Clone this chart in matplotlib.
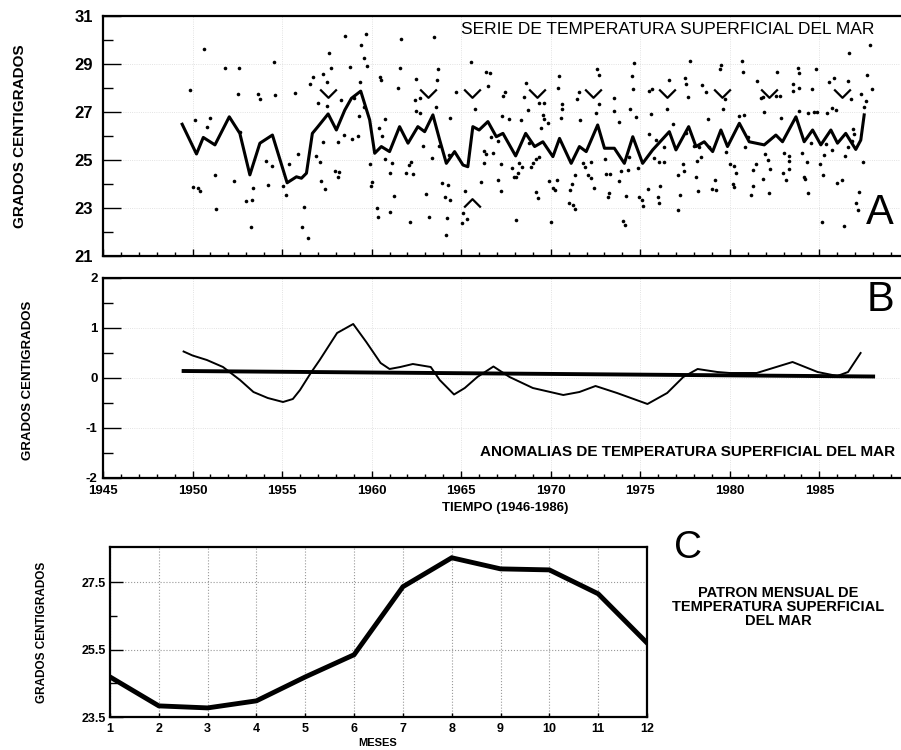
import numpy as np
import matplotlib
matplotlib.use('Agg')
import matplotlib.pyplot as plt
from matplotlib.ticker import MultipleLocator, FixedLocator

plt.rcParams['font.family'] = ['Liberation Sans', 'DejaVu Sans']
plt.rcParams['axes.unicode_minus'] = False

# --- A: serie mensual de TSM (puntos) y serie suavizada (linea) ---
sst_points = [
    (1950.65, 29.64), (1951.82, 28.83), (1949.85, 27.92), (1950.13, 26.67), (1950.95, 26.74),
    (1950.82, 26.38), (1951.23, 24.39), (1952.3, 24.14), (1950.0, 23.88), (1950.3, 23.82),
    (1950.4, 23.7), (1951.3, 22.97), (1952.64, 26.15),
    (1952.58, 28.85), (1954.55, 29.1), (1952.53, 27.75), (1953.66, 27.75), (1953.76, 27.53),
    (1954.63, 27.71), (1955.73, 27.78), (1953.36, 23.85), (1952.96, 23.3), (1953.33, 23.32),
    (1953.26, 22.2), (1954.09, 24.97), (1954.43, 24.76), (1954.2, 23.96), (1955.04, 23.92),
    (1955.19, 23.54), (1955.37, 24.82), (1955.91, 25.25), (1956.21, 23.05), (1956.12, 22.22),
    (1956.45, 21.76), (1956.58, 28.17), (1956.71, 28.47), (1957.31, 28.6), (1957.53, 28.26),
    (1957.6, 29.47), (1957.72, 28.82), (1958.52, 30.17), (1958.78, 28.89), (1959.43, 29.79),
    (1959.56, 29.26), (1959.37, 28.24), (1956.99, 27.39), (1957.49, 27.25), (1958.31, 27.5),
    (1959.0, 27.57), (1959.31, 26.82), (1959.56, 27.22), (1957.27, 25.74), (1958.1, 25.74),
    (1958.48, 26.03), (1958.89, 25.88), (1959.24, 26.0), (1956.91, 25.18), (1957.1, 24.9),
    (1957.97, 24.55), (1958.2, 24.49), (1958.14, 24.3), (1957.19, 24.14), (1957.42, 23.79),
    (1959.67, 30.24), (1961.66, 30.03), (1963.46, 30.14), (1959.76, 28.92), (1961.6, 28.82),
    (1963.72, 28.78), (1965.56, 29.07), (1966.4, 28.65), (1960.45, 28.47), (1960.54, 28.33),
    (1961.47, 28.01), (1962.46, 28.39), (1963.65, 28.33), (1964.69, 27.85), (1962.4, 27.5),
    (1962.68, 27.57), (1966.49, 28.08), (1962.49, 27.05), (1962.68, 26.97), (1963.57, 27.22),
    (1964.39, 26.76), (1965.78, 27.13), (1960.77, 26.72), (1960.39, 26.32), (1960.6, 26.0),
    (1959.89, 24.83), (1960.73, 25.03), (1961.14, 24.86), (1961.0, 24.47), (1962.21, 24.93),
    (1962.08, 24.79), (1961.93, 24.47), (1962.3, 24.4), (1962.86, 25.58), (1963.38, 25.07),
    (1963.76, 25.58), (1964.32, 25.21), (1966.4, 25.24), (1966.27, 25.39), (1966.8, 25.3),
    (1966.27, 24.86), (1960.04, 24.1), (1959.98, 23.92), (1961.23, 23.51), (1963.05, 23.57),
    (1963.94, 24.05), (1964.26, 23.96), (1964.07, 23.45), (1964.39, 23.33), (1965.2, 23.72),
    (1966.08, 24.1), (1960.3, 22.99), (1961.04, 22.85), (1960.36, 22.61), (1962.16, 22.43),
    (1963.2, 22.61), (1964.2, 22.57), (1965.1, 22.78), (1965.04, 22.39), (1965.32, 22.54),
    (1964.13, 21.86),
    (1970.45, 28.5), (1972.57, 28.78), (1972.68, 28.53), (1966.63, 28.61), (1968.63, 28.2),
    (1970.43, 28.01), (1967.47, 27.85), (1967.33, 27.67), (1968.5, 27.61), (1969.37, 27.39),
    (1969.61, 27.39), (1971.56, 27.85), (1971.45, 27.53), (1970.63, 27.32), (1970.63, 27.11),
    (1972.72, 27.32), (1972.53, 26.94), (1973.52, 27.57), (1973.55, 27.05), (1973.8, 26.6),
    (1968.72, 27.08), (1967.29, 26.83), (1967.66, 26.71), (1968.35, 26.67), (1969.56, 26.88),
    (1969.65, 26.69), (1969.84, 26.53), (1969.46, 26.32), (1970.58, 26.76), (1971.64, 26.67),
    (1966.68, 25.97), (1967.05, 25.79), (1968.78, 25.7), (1969.37, 25.14), (1969.18, 25.03),
    (1967.23, 24.82), (1968.25, 24.86), (1968.37, 24.72), (1967.85, 24.65), (1968.99, 24.86),
    (1968.9, 24.72), (1968.16, 24.47), (1967.94, 24.3), (1968.07, 24.28), (1967.05, 24.17),
    (1967.2, 23.72), (1971.38, 24.38), (1971.79, 24.86), (1971.94, 24.72), (1972.22, 24.93),
    (1972.09, 24.38), (1972.27, 24.24), (1973.09, 24.4), (1973.31, 24.4), (1973.05, 25.05),
    (1973.93, 24.54), (1973.8, 24.13), (1969.93, 24.13), (1970.36, 24.17), (1970.12, 23.85),
    (1970.21, 23.75), (1969.15, 23.68), (1969.28, 23.4), (1971.05, 23.75), (1971.2, 24.0),
    (1971.01, 23.2), (1971.23, 23.13), (1971.33, 22.95), (1972.39, 23.85), (1973.24, 23.64),
    (1973.18, 23.45), (1968.04, 22.5), (1969.99, 22.42), (1974.02, 22.47),
    (1974.67, 29.03), (1977.79, 29.13), (1979.5, 28.96), (1979.47, 28.78), (1980.66, 29.13),
    (1980.75, 28.68), (1974.54, 28.5), (1976.58, 28.33), (1977.47, 28.4), (1977.55, 28.17),
    (1978.44, 28.11), (1974.58, 27.95), (1975.66, 27.97), (1975.5, 27.89), (1977.65, 27.61),
    (1978.67, 27.85), (1979.75, 27.53), (1974.43, 27.14), (1974.77, 26.78), (1975.62, 26.93),
    (1976.49, 27.13), (1979.63, 27.11), (1980.53, 26.83), (1980.8, 26.88), (1976.81, 26.49),
    (1978.76, 26.69), (1975.47, 26.07), (1975.88, 25.83), (1976.34, 25.56), (1977.55, 26.11),
    (1978.02, 25.58), (1978.3, 25.56), (1978.86, 25.56), (1981.0, 25.97), (1980.86, 25.53),
    (1974.39, 25.14), (1975.77, 25.1), (1976.05, 24.93), (1976.34, 24.93), (1978.39, 25.14),
    (1978.15, 24.96), (1979.78, 25.35), (1980.0, 24.83), (1980.25, 24.75), (1974.3, 24.58),
    (1974.86, 24.68), (1977.37, 24.82), (1977.42, 24.54), (1977.09, 24.38), (1978.11, 24.3),
    (1980.34, 24.45), (1979.19, 24.17), (1980.16, 23.99), (1980.25, 23.89), (1981.27, 23.93),
    (1976.12, 23.92), (1975.42, 23.79), (1978.2, 23.71), (1979.0, 23.79), (1979.2, 23.75),
    (1974.18, 23.5), (1974.93, 23.45), (1975.08, 23.33), (1975.17, 23.1), (1975.97, 23.47),
    (1976.05, 23.2), (1977.22, 23.53), (1977.12, 22.92), (1974.17, 22.28), (1981.18, 23.54),
    (1987.82, 29.79), (1986.66, 29.44), (1982.63, 28.67), (1983.78, 28.82), (1983.84, 28.64),
    (1984.8, 28.78), (1987.68, 28.54), (1981.49, 28.29), (1985.83, 28.4), (1985.55, 28.26),
    (1986.61, 28.31), (1983.55, 28.17), (1983.87, 27.99), (1983.5, 27.88), (1984.58, 27.95),
    (1987.92, 27.95), (1987.31, 27.75), (1981.83, 27.64), (1981.74, 27.57), (1982.57, 27.67),
    (1982.81, 27.67), (1986.75, 27.53), (1987.59, 27.46), (1987.5, 27.22), (1981.92, 26.99),
    (1983.87, 27.05), (1984.39, 26.97), (1984.7, 27.01), (1984.89, 27.01), (1985.45, 26.94),
    (1985.73, 27.18), (1985.95, 27.08), (1982.85, 26.74), (1986.85, 26.28), (1986.94, 26.08),
    (1986.81, 25.8), (1984.52, 25.72), (1985.36, 25.65), (1986.57, 25.56), (1981.98, 25.24),
    (1983.04, 25.3), (1983.32, 25.17), (1984.02, 25.28), (1985.27, 25.21), (1985.7, 25.42),
    (1986.44, 25.17), (1981.46, 24.82), (1982.11, 25.0), (1983.28, 24.97), (1984.28, 24.93),
    (1985.02, 24.83), (1987.46, 24.93), (1981.3, 24.58), (1982.23, 24.61), (1982.94, 24.45),
    (1983.28, 24.61), (1984.12, 24.3), (1984.21, 24.2), (1985.21, 24.38), (1981.85, 24.21),
    (1983.13, 24.17), (1986.25, 24.17), (1986.0, 24.03), (1982.2, 23.64), (1984.38, 23.61),
    (1987.22, 23.65), (1987.07, 23.22), (1987.13, 22.92), (1985.14, 22.4), (1986.35, 22.25),
]
sst_year = [p[0] for p in sst_points]
sst_temp = [p[1] for p in sst_points]

smooth_year = [1949.42, 1950.22, 1950.6, 1951.25, 1952.05, 1952.64, 1953.2, 1953.76, 1954.46,
               1955.28, 1955.8, 1956.08, 1956.36, 1956.69, 1957.0, 1957.57, 1958.03, 1958.5,
               1958.87, 1959.39, 1959.89, 1960.17, 1960.54, 1961.0, 1961.56, 1962.03, 1962.58,
               1962.96, 1963.42, 1963.8, 1964.17, 1964.63, 1965.1, 1965.37, 1965.65, 1966.0,
               1966.49, 1966.96, 1967.33, 1968.04, 1968.6, 1969.1, 1969.56, 1970.12, 1970.49,
               1971.14, 1971.6, 1971.98, 1972.62, 1973.0, 1973.55, 1974.11, 1974.58, 1975.13,
               1975.69, 1976.62, 1976.99, 1977.7, 1978.11, 1978.57, 1979.04, 1979.5, 1979.87,
               1980.53, 1981.08, 1981.92, 1982.57, 1982.94, 1983.69, 1984.15, 1984.62, 1985.08,
               1985.64, 1986.01, 1986.47, 1987.03, 1987.31, 1987.5]
smooth_temp = [26.49, 25.25, 25.94, 25.63, 26.8, 26.11, 24.38, 25.7, 26.04,
               24.05, 24.3, 24.24, 24.45, 26.11, 26.39, 26.92, 26.25, 27.08,
               27.57, 27.87, 26.67, 25.28, 25.56, 25.35, 26.39, 25.7, 26.39,
               26.18, 26.88, 25.83, 24.86, 25.35, 24.79, 24.72, 26.39, 26.25,
               26.6, 25.97, 26.11, 25.17, 26.11, 25.56, 25.76, 25.14, 25.9,
               24.86, 25.56, 25.35, 26.46, 25.49, 25.49, 24.86, 25.97, 24.86,
               25.42, 26.18, 25.42, 26.39, 25.56, 25.76, 25.35, 26.25, 25.56,
               26.53, 25.76, 25.63, 26.04, 25.76, 26.8, 25.76, 26.25, 25.63,
               26.25, 25.7, 26.11, 25.44, 25.83, 26.88]

warm_year = [1957.55, 1963.15, 1965.6, 1969.25, 1972.35, 1976.5, 1979.55, 1982.2, 1986.25]
warm_temp = [27.75] * len(warm_year)
cold_year = [1965.6]
cold_temp = [23.25]

# --- B: anomalias y tendencia ---
anom_year = [1949.5, 1950.0, 1950.8, 1951.7, 1952.65, 1953.4, 1954.2, 1955.05, 1955.6, 1956.0,
             1956.6, 1957.1, 1958.07, 1958.97, 1959.7, 1960.5, 1961.0, 1961.6, 1962.3, 1963.3,
             1963.8, 1964.6, 1965.2, 1965.9, 1966.8, 1967.7, 1969.0, 1970.7, 1971.6, 1972.5,
             1973.7, 1975.4, 1976.5, 1977.4, 1978.2, 1979.3, 1980.0, 1981.5, 1983.5, 1984.9,
             1986.0, 1986.6, 1987.3]
anom_val = [0.53, 0.45, 0.36, 0.22, -0.04, -0.28, -0.4, -0.48, -0.42, -0.24,
            0.1, 0.36, 0.9, 1.08, 0.72, 0.3, 0.18, 0.22, 0.28, 0.22,
            -0.04, -0.33, -0.2, 0.02, 0.23, 0.02, -0.2, -0.34, -0.28, -0.16,
            -0.3, -0.52, -0.3, 0.02, 0.18, 0.12, 0.1, 0.1, 0.32, 0.12,
            0.04, 0.12, 0.5]
trend_year = [1949.5, 1988.0]
trend_val = [0.14, 0.03]

# --- C: patron mensual ---
months = list(range(1, 13))
monthly_temp = [24.69, 23.83, 23.77, 23.98, 24.69, 25.35, 27.37, 28.23, 27.9, 27.87, 27.16, 25.7]

W, H = 901, 750
fig = plt.figure(figsize=(W / 100, H / 100), dpi=100)


def box(l, t, r, b):
    return [l / W, 1 - b / H, (r - l) / W, (b - t) / H]


def ftext(x, y, s, **kw):
    fig.text(x / W, 1 - y / H, s, ha=kw.pop('ha', 'center'), va=kw.pop('va', 'center'), **kw)


def style(ax, lw=1.6):
    for sp in ax.spines.values():
        sp.set_linewidth(lw)
    ax.tick_params(which='both', direction='in', top=False, right=False, width=1.0)
    for lab in ax.get_xticklabels() + ax.get_yticklabels():
        lab.set_fontweight('bold')


grid_kw = dict(color='0.85', linestyle=':', linewidth=0.6)
v_mark = [(-1, 0.6), (0, -0.4), (1, 0.6)]
a_mark = [(-1, -0.6), (0, 0.4), (1, -0.6)]

# panel A
axA = fig.add_axes(box(103, 16, 900, 256))
axA.plot(sst_year, sst_temp, 'o', color='black', ms=2.6, mew=0)
axA.plot(smooth_year, smooth_temp, color='black', lw=2.2, solid_joinstyle='round')
axA.plot(warm_year, warm_temp, ls='none', marker=v_mark, ms=12, mfc='none', mec='black', mew=1.6)
axA.plot(cold_year, cold_temp, ls='none', marker=a_mark, ms=12, mfc='none', mec='black', mew=1.6)
axA.set_xlim(1945, 1989.5)
axA.set_ylim(21, 31)
axA.xaxis.set_major_locator(MultipleLocator(5))
axA.xaxis.set_minor_locator(MultipleLocator(1))
axA.yaxis.set_major_locator(FixedLocator([21, 23, 25, 27, 29, 31]))
axA.yaxis.set_minor_locator(FixedLocator([22, 24, 26, 28, 30]))
axA.set_xticklabels([])
axA.tick_params(axis='y', labelsize=12, pad=7)
axA.tick_params(axis='y', which='major', length=13)
axA.tick_params(axis='y', which='minor', length=7)
axA.tick_params(axis='x', which='major', length=5)
axA.tick_params(axis='x', which='minor', length=3)
axA.spines['right'].set_visible(False)
axA.grid(True, **grid_kw)
style(axA)

# panel B
axB = fig.add_axes(box(103, 278, 900, 478))
axB.plot(anom_year, anom_val, color='black', lw=1.4, solid_joinstyle='round')
axB.plot(trend_year, trend_val, color='black', lw=2.8)
axB.set_xlim(1945, 1989.5)
axB.set_ylim(-2, 2)
axB.xaxis.set_major_locator(MultipleLocator(5))
axB.xaxis.set_minor_locator(MultipleLocator(1))
axB.yaxis.set_major_locator(MultipleLocator(1))
axB.yaxis.set_minor_locator(MultipleLocator(0.5))
axB.tick_params(axis='both', labelsize=9.5)
axB.tick_params(axis='y', pad=4)
axB.tick_params(axis='x', pad=5)
axB.tick_params(axis='y', which='major', length=13)
axB.tick_params(axis='y', which='minor', length=7)
axB.tick_params(axis='x', which='major', length=5)
axB.tick_params(axis='x', which='minor', length=3)
axB.spines['right'].set_visible(False)
axB.grid(True, **grid_kw)
style(axB)

# panel C
axC = fig.add_axes(box(110, 547, 647, 717))
axC.plot(months, monthly_temp, color='black', lw=3.5, solid_joinstyle='miter')
axC.set_xlim(1, 12)
axC.set_ylim(23.5, 28.55)
axC.xaxis.set_major_locator(FixedLocator(months))
axC.yaxis.set_major_locator(FixedLocator([23.5, 25.5, 27.5]))
axC.yaxis.set_minor_locator(FixedLocator([24.5, 26.5]))
axC.tick_params(axis='both', labelsize=9)
axC.tick_params(axis='y', pad=3)
axC.tick_params(axis='x', pad=4)
axC.tick_params(axis='y', which='major', length=9)
axC.tick_params(axis='y', which='minor', length=5)
axC.tick_params(axis='x', which='major', length=3)
axC.grid(True, color='0.6', linestyle=':', linewidth=0.8)
style(axC)

# textos
ftext(668, 30, 'SERIE DE TEMPERATURA SUPERFICIAL DEL MAR', fontsize=12.5)
ftext(880, 213, 'A', fontsize=30)
ftext(20, 136, 'GRADOS CENTIGRADOS', fontsize=11, fontweight='bold', rotation=90)

ftext(880, 300, 'B', fontsize=30)
ftext(688, 452, 'ANOMALIAS DE TEMPERATURA SUPERFICIAL DEL MAR', fontsize=11, fontweight='bold')
ftext(28, 380, 'GRADOS CENTIGRADOS', fontsize=9.5, fontweight='bold', rotation=90)
ftext(505, 508, 'TIEMPO (1946-1986)', fontsize=9.5, fontweight='bold')

ftext(688, 548, 'C', fontsize=28)
ftext(778, 607, 'PATRON MENSUAL DE\nTEMPERATURA SUPERFICIAL\nDEL MAR', fontsize=10.5,
      fontweight='bold', linespacing=1.0)
ftext(42, 632, 'GRADOS CENTIGRADOS', fontsize=8.5, fontweight='bold', rotation=90)
ftext(378, 743, 'MESES', fontsize=8, fontweight='bold')

fig.savefig('out.png', dpi=100)
